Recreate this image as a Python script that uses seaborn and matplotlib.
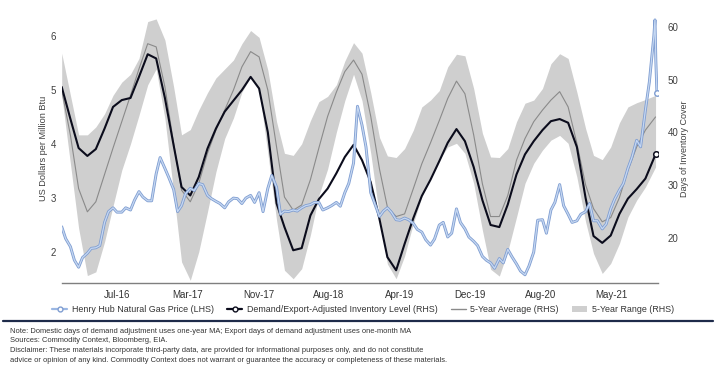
import pandas as pd
import numpy as np
import matplotlib
matplotlib.use('Agg')
import matplotlib.pyplot as plt
import matplotlib.patheffects as pe
from matplotlib.lines import Line2D
from matplotlib.patches import Patch
import seaborn as sns

sns.set_style('white')
plt.rcParams['font.family'] = ['Liberation Sans', 'DejaVu Sans']

## Monthly series (RHS, days of inventory cover), Jan-16 .. early Oct-21
band_hi = [55, 47, 39.5, 39.5, 41, 43.5, 47, 49.5, 51, 54,
           61, 61.5, 57.5, 48.6, 39.5, 40.5, 44.2, 47.5, 50.3, 52,
           53.7, 56.8, 59.3, 58, 51.8, 42, 36, 35.6, 37.8, 42.2,
           45.8, 46.8, 49, 53.5, 57, 55, 47.5, 39, 35.5, 35.2,
           36.9, 40.4, 44.8, 46.1, 47.9, 52.4, 54.8, 54.5, 48.3, 39.8,
           35.3, 35.2, 36.9, 42, 45.5, 46.1, 48.3, 53, 54.9, 54,
           47.6, 40.7, 35.6, 34.8, 37.2, 41.8, 44.8, 45.6, 46.2, 47]
band_lo = [47, 34, 21.8, 12.8, 13.5, 19.2, 26, 32.8, 37.8, 43.2,
           49, 52, 42.6, 28.6, 15.4, 11.9, 17.3, 24.9, 32.5, 38.8,
           42.7, 47.6, 50.5, 48.2, 36, 23.3, 13.8, 12.2, 14.1, 20.5,
           28, 33, 40, 46, 51, 46, 36, 24, 15, 12.2,
           16.5, 22.7, 27.7, 31.5, 34.7, 37.2, 37.9, 36, 30.3, 21.4,
           14, 12.7, 17.4, 23.9, 30.3, 34.1, 36.6, 38.5, 39.4, 37.9,
           31.5, 23, 17, 13.2, 15.1, 18.9, 23.9, 27.1, 29.6, 33.4]
avg5 = [48, 39.4, 29.3, 24.9, 26.8, 32, 37, 42, 47, 52,
        56.8, 56.2, 48.6, 37.9, 29, 26.8, 30.3, 36, 40.4, 44.2,
        48, 52.4, 55.3, 54.3, 48, 37.2, 27.7, 25.2, 26.2, 31,
        37, 43, 47.6, 51.5, 53.7, 51, 43, 33, 25.8, 24,
        24.5, 29.3, 34, 38, 42.2, 46.4, 49.7, 47.3, 39.5, 30.2,
        24, 24, 28, 34.7, 38.8, 42, 44.2, 46.1, 47.7, 44.8,
        37.9, 30, 25.5, 23, 23.8, 27.6, 32.8, 37.2, 40.4, 42.9]
inventory = [48.6, 42.5, 37, 35.5, 36.8, 40.7, 44.8, 46.1, 46.5, 50.5,
             54.8, 54, 46.5, 37.5, 29.6, 28, 31.5, 36.9, 40.7, 43.9,
             46, 48, 50.5, 48.3, 40, 26.5, 22, 17.6, 18, 24.2,
             27.3, 29.3, 32.2, 35.3, 37.6, 34.7, 30.5, 23.5, 16.3, 13.8,
             18.8, 23.7, 27.9, 31, 34.5, 38, 40.6, 38.3, 33.4, 27.1,
             22.4, 22, 26.3, 32, 35.8, 38.3, 40.4, 42.1, 42.5, 41.8,
             37.2, 27.5, 20.3, 19, 20.4, 24.5, 27.4, 29.2, 31.2, 35.8]
month_dates = list(pd.date_range('2016-01-01', periods=69, freq='MS')) + [pd.Timestamp('2021-10-07')]

## Henry Hub price (LHS, $/MMBtu), semi-monthly readings + final days
henry_hub = [2.47, 2.25, 2.10, 1.85, 1.72, 1.90, 1.98, 2.07, 2.08, 2.12,
             2.55, 2.75, 2.82, 2.74, 2.74, 2.82, 2.78, 2.96, 3.12, 3.02,
             2.95, 2.95, 3.45, 3.75, 3.55, 3.38, 3.16, 2.75, 2.86, 3.08,
             3.18, 3.14, 3.27, 3.25, 3.05, 2.99, 2.94, 2.90, 2.82, 2.93,
             3.00, 2.99, 2.90, 3.00, 3.05, 2.92, 3.10, 2.75, 3.18, 3.42,
             3.20, 2.70, 2.76, 2.75, 2.78, 2.76, 2.82, 2.86, 2.88, 2.92,
             2.92, 2.78, 2.82, 2.86, 2.92, 2.85, 3.10, 3.27, 3.65, 4.70,
             4.35, 3.95, 3.10, 2.90, 2.66, 2.76, 2.82, 2.74, 2.60, 2.59,
             2.63, 2.60, 2.53, 2.42, 2.37, 2.23, 2.13, 2.24, 2.50, 2.55,
             2.28, 2.35, 2.80, 2.55, 2.43, 2.28, 2.20, 2.12, 1.92, 1.85,
             1.80, 1.70, 1.88, 1.80, 2.05, 1.92, 1.78, 1.65, 1.58, 1.74,
             2.00, 2.59, 2.60, 2.35, 2.78, 2.92, 3.25, 2.86, 2.70, 2.55,
             2.58, 2.70, 2.75, 2.90, 2.58, 2.58, 2.43, 2.52, 2.80, 2.98,
             3.15, 3.27, 3.55, 3.75, 4.07, 3.95, 4.63, 5.15, 6.00]
hh_tail_dates = ['2021-10-05', '2021-10-08', '2021-10-12']
hh_tail = [6.30, 5.55, 4.94]

tick_labels = ['Jul-16', 'Mar-17', 'Nov-17', 'Aug-18', 'Apr-19', 'Dec-19', 'Aug-20', 'May-21']

monthly = pd.DataFrame({'date': month_dates, 'hi': band_hi, 'lo': band_lo,
                        'avg': avg5, 'inv': inventory})
hh_dates = list(pd.date_range('2016-01-01', periods=len(henry_hub), freq='SMS')) + list(pd.to_datetime(hh_tail_dates))
hh = pd.DataFrame({'date': hh_dates, 'price': henry_hub + hh_tail})

fig = plt.figure(figsize=(7.2, 3.72), dpi=100)
ax = fig.add_axes([0.0857, 0.239, 0.8283, 0.723])
ax2 = ax.twinx()

# RHS: band, 5-yr average, inventory
ax2.fill_between(monthly['date'], monthly['lo'], monthly['hi'], color='#cfcfcf', lw=0)
sns.lineplot(data=monthly, x='date', y='avg', ax=ax2, color='#8a8a8a', lw=0.8)
sns.lineplot(data=monthly, x='date', y='inv', ax=ax2, color='#0b0c1c', lw=1.5)
ax2.plot(monthly['date'].iloc[-1], monthly['inv'].iloc[-1], 'o', ms=4, mfc='white',
         mec='#0b0c1c', mew=1.1)

# LHS: Henry Hub on top
sns.lineplot(data=hh, x='date', y='price', ax=ax, color='#c6d8f2', lw=0.9,
             path_effects=[pe.Stroke(linewidth=2.1, foreground='#7f9dd1'), pe.Normal()])
ax.plot(hh['date'].iloc[-1], hh['price'].iloc[-1], 'o', ms=4, mfc='white',
        mec='#7f9dd1', mew=1.0)
ax.set_zorder(ax2.get_zorder() + 1)
ax.patch.set_visible(False)

ax.set_xlim(pd.Timestamp('2016-01-01'), pd.Timestamp('2021-10-16'))
ax.set_ylim(1.426, 6.407)
ax2.set_ylim(11.37, 62.41)
ticks = pd.date_range('2016-07-17', periods=len(tick_labels), freq='250D')
ax.set_xticks(ticks)
ax.set_xticklabels(tick_labels)
ax.set_yticks([2, 3, 4, 5, 6])
ax2.set_yticks([20, 30, 40, 50, 60])

for a in (ax, ax2):
    for s in a.spines.values():
        s.set_visible(False)
ax.spines['bottom'].set_visible(True)
ax.spines['bottom'].set_color('#7f7f7f')
ax.spines['bottom'].set_linewidth(1.0)
ax.tick_params(axis='x', direction='out', length=3, color='#7f7f7f', labelsize=7,
               labelcolor='#333333', pad=2)
ax.tick_params(axis='y', length=0, labelsize=7, labelcolor='#404040', pad=4)
ax2.tick_params(axis='y', length=0, labelsize=7, labelcolor='#404040', pad=7)
ax.set_xlabel('')
ax.set_ylabel('US Dollars per Million Btu', fontsize=6.6, color='#404040', labelpad=2)
ax2.set_ylabel('Days of Inventory Cover', fontsize=6.5, color='#404040', labelpad=1)

handles = [
    Line2D([], [], color='#9bb7e3', lw=1.6, marker='o', ms=3.5, mfc='white', mec='#7f9dd1'),
    Line2D([], [], color='#0b0c1c', lw=1.6, marker='o', ms=3.5, mfc='white', mec='#0b0c1c'),
    Line2D([], [], color='#8a8a8a', lw=1.0),
    Patch(facecolor='#cfcfcf', edgecolor='none'),
]
labels = ['Henry Hub Natural Gas Price (LHS)', 'Demand/Export-Adjusted Inventory Level (RHS)',
          '5-Year Average (RHS)', '5-Year Range (RHS)']
fig.legend(handles, labels, loc='center', bbox_to_anchor=(0.504, 0.167), ncol=4,
           frameon=False, fontsize=6.4, handlelength=1.7, handletextpad=0.5,
           columnspacing=1.5, labelcolor='#333333')

fig.add_artist(Line2D([0.004, 0.99], [0.137, 0.137], transform=fig.transFigure,
                      color='#1e2b4a', lw=1.6))

notes = ['Note: Domestic days of demand adjustment uses one-year MA; Export days of demand adjustment uses one-month MA',
         'Sources: Commodity Context, Bloomberg, EIA.',
         'Disclaimer: These materials incorporate third-party data, are provided for informational purposes only, and do not constitute',
         'advice or opinion of any kind. Commodity Context does not warrant or guarantee the accuracy or completeness of these materials.']
for i, line in enumerate(notes):
    fig.text(0.014, 0.110 - i * 0.026, line, fontsize=5.4, color='#333333', va='center')

fig.savefig('out.png', dpi=100)
